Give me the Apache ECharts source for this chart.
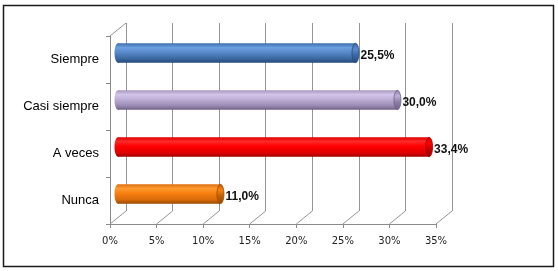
<!DOCTYPE html>
<html>
<head>
<meta charset="utf-8">
<script src="https://cdn.jsdelivr.net/npm/echarts@6/dist/echarts.min.js"></script>
<style>html,body{margin:0;padding:0;background:#fff;}#c{width:558px;height:271px;}</style>
</head>
<body>
<div id="c"></div>
<script>
const categories = ['Siempre', 'Casi siempre', 'A veces', 'Nunca'];
const values = [25.5, 30.0, 33.4, 11.0];
const tickValues = [0, 5, 10, 15, 20, 25, 30, 35];
const axisMin = 0, axisMax = 35, axisStep = 5;

const palette = [
  { top: '#3f6fae', hi: '#6b9fdf', mid: '#5a8bcb', low: '#3a679f', bot: '#244a7a', cap: '#3b69a6' },
  { top: '#a898c0', hi: '#d2c5e8', mid: '#c0b0d8', low: '#9a8ab2', bot: '#6f6285', cap: '#8c7ea6' },
  { top: '#e00000', hi: '#ff2a2a', mid: '#ff0000', low: '#e00000', bot: '#a00000', cap: '#c80000' },
  { top: '#e07010', hi: '#ff9a30', mid: '#f88010', low: '#d86a08', bot: '#9a4a00', cap: '#c06000' }
];
const DX = 16, DY = -13; // depth offset of back wall

const chart = echarts.init(document.getElementById('c'), null, { renderer: 'canvas' });

function grad(p) {
  return new echarts.graphic.LinearGradient(0, 0, 0, 1, [
    { offset: 0, color: p.top },
    { offset: 0.22, color: p.hi },
    { offset: 0.45, color: p.mid },
    { offset: 0.8, color: p.low },
    { offset: 1, color: p.bot }
  ]);
}

const option = {
  animation: false,
  backgroundColor: '#fff',
  graphic: [{
    type: 'rect', shape: { x: 3.5, y: 5.5, width: 550, height: 261 },
    style: { fill: 'none', stroke: '#1a1a1a', lineWidth: 1.5 }, z: 100
  }],
  grid: [
    { left: 110 + DX, top: 36 + DY, width: 326, height: 188 },
    { left: 110, top: 36, width: 326, height: 188 }
  ],
  xAxis: [
    { gridIndex: 0, type: 'value', min: axisMin, max: axisMax, interval: axisStep,
      axisLine: { show: false }, axisTick: { show: false }, axisLabel: { show: false },
      splitLine: { show: true, lineStyle: { color: '#949494', width: 1 } } },
    { gridIndex: 1, type: 'value', min: axisMin, max: axisMax, interval: axisStep,
      axisLine: { show: true, lineStyle: { color: '#8a8a8a', width: 1 } },
      axisTick: { show: true, length: 4, lineStyle: { color: '#8a8a8a' } },
      splitLine: { show: false },
      axisLabel: { formatter: '{value}%', color: '#222', fontSize: 10, fontFamily: 'DejaVu Sans', margin: 12 } }
  ],
  yAxis: [
    { gridIndex: 0, type: 'category', data: categories, inverse: true, show: false },
    { gridIndex: 1, type: 'category', data: categories, inverse: true,
      axisLine: { show: true, lineStyle: { color: '#8a8a8a', width: 1 } },
      axisTick: { show: true, length: 4, lineStyle: { color: '#8a8a8a' } },
      splitLine: { show: false },
      axisLabel: { color: '#000', fontSize: 13, fontFamily: 'Liberation Sans', margin: 11 } }
  ],
  series: [
    {
      type: 'custom', xAxisIndex: 1, yAxisIndex: 1, z: 2,
      data: tickValues.map(v => [v, 0]),
      renderItem: function (params, api) {
        const cs = params.coordSys;
        const x = api.coord([api.value(0), 0])[0];
        const yb = cs.y + cs.height;
        const children = [{
          type: 'line', shape: { x1: x, y1: yb, x2: x + DX, y2: yb + DY },
          style: { stroke: '#949494', lineWidth: 1 }
        }];
        if (params.dataIndex === 0) {
          children.push({
            type: 'line', shape: { x1: x, y1: cs.y, x2: x + DX, y2: cs.y + DY },
            style: { stroke: '#949494', lineWidth: 1 }
          });
        }
        return { type: 'group', children: children };
      }
    },
    {
      type: 'custom', xAxisIndex: 1, yAxisIndex: 1, z: 5,
      data: values.map((v, i) => [v, i]),
      renderItem: function (params, api) {
        const i = params.dataIndex;
        const v = api.value(0);
        const s = api.coord([0, i]);
        const e = api.coord([v, i]);
        const band = api.size([0, 1])[1];
        const h = band * 0.41;
        const cy = s[1] + DY / 2;
        const x0 = s[0] + DX / 2;
        const x1 = e[0] + DX / 2;
        const p = palette[i];
        const g = grad(p);
        const rx = 3.5;
        const label = v.toFixed(1).replace('.', ',') + '%';
        return {
          type: 'group',
          children: [
            { type: 'ellipse', shape: { cx: x0, cy: cy, rx: rx, ry: h / 2 }, style: { fill: g } },
            { type: 'rect', shape: { x: x0, y: cy - h / 2, width: x1 - x0, height: h }, style: { fill: g } },
            { type: 'ellipse', shape: { cx: x1, cy: cy, rx: rx, ry: h / 2 },
              style: { fill: new echarts.graphic.LinearGradient(0, 0, 0, 1, [
                { offset: 0, color: p.cap }, { offset: 0.3, color: p.mid }, { offset: 0.6, color: p.cap }, { offset: 1, color: p.bot }
              ]), stroke: p.bot, lineWidth: 0.8 } },
            { type: 'text', x: x1 + rx + 1.5, y: cy + 3,
              style: { text: label, fill: '#111', font: 'bold 12px "Liberation Sans", Arial, sans-serif',
                       verticalAlign: 'middle', align: 'left' } }
          ]
        };
      }
    }
  ]
};
chart.setOption(option);
</script>
</body>
</html>
